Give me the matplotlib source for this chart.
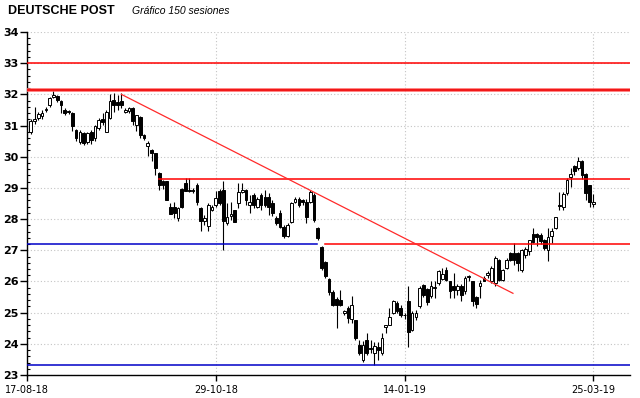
import matplotlib
matplotlib.use('Agg')
import matplotlib.pyplot as plt
import numpy as np

# sessions 1..150, OHLC
opens = [30.80, 31.15, 31.23, 31.31, 31.50, 31.66, 31.93, 31.96, 31.80, 31.50,
         31.46, 31.39, 30.86, 30.48, 30.75, 30.48, 30.80, 30.59, 30.91, 31.20,
         30.80, 31.25, 31.82, 31.75, 31.80, 31.42, 31.47, 31.55, 31.02, 31.29,
         30.70, 30.33, 30.23, 30.12, 29.48, 29.21, 29.21, 28.40, 28.40, 28.03,
         28.95, 29.16, 28.93, 28.92, 29.10, 28.35, 27.95, 27.77, 28.30, 28.44,
         28.91, 28.94, 27.86, 28.10, 28.29, 28.51, 28.88, 28.93, 28.45, 28.77,
         28.40, 28.77, 28.72, 28.72, 28.51, 28.03, 28.19, 27.76, 27.46, 27.92,
         28.56, 28.66, 28.60, 28.56, 28.56, 28.77, 27.72, 27.12, 26.62, 26.07,
         25.65, 25.45, 25.41, 24.99, 25.14, 24.80, 24.75, 23.97, 23.48, 24.13,
         23.88, 23.70, 23.90, 23.72, 24.55, 24.61, 25.00, 25.30, 25.15, 24.93,
         25.36, 24.45, 24.87, 25.20, 25.89, 25.75, 25.52, 25.80, 25.95, 26.08,
         26.37, 26.00, 25.84, 25.72, 25.84, 25.68, 26.14, 26.00, 25.50, 25.84,
         26.11, 26.20, 26.00, 25.95, 26.70, 26.06, 26.43, 26.91, 26.91, 26.91,
         26.37, 26.85, 26.97, 27.53, 27.53, 27.50, 27.34, 27.00, 27.45, 27.71,
         28.46, 28.40, 28.83, 29.36, 29.71, 29.63, 29.87, 29.45, 29.08, 28.48]
highs = [31.20, 31.60, 31.45, 31.50, 31.58, 31.93, 32.15, 31.98, 31.82, 31.55,
         31.50, 31.42, 30.90, 30.86, 30.80, 30.80, 30.86, 31.02, 31.23, 31.39,
         31.50, 32.00, 32.03, 31.98, 32.05, 31.55, 31.60, 31.60, 31.34, 31.30,
         30.72, 30.49, 30.25, 30.12, 29.50, 29.25, 29.21, 28.50, 28.56, 28.40,
         29.00, 29.32, 29.32, 29.00, 29.15, 28.40, 28.14, 28.51, 28.45, 28.91,
         28.95, 29.21, 28.50, 28.56, 28.30, 29.15, 29.15, 28.95, 28.77, 28.83,
         28.72, 28.83, 28.93, 28.83, 28.60, 28.10, 28.30, 27.80, 27.86, 28.56,
         28.72, 28.72, 28.66, 28.66, 28.93, 28.83, 27.75, 27.14, 26.65, 26.10,
         25.73, 25.50, 25.73, 25.10, 25.20, 25.52, 24.77, 24.13, 24.10, 24.34,
         24.13, 24.07, 24.07, 24.34, 24.61, 25.14, 25.42, 25.36, 25.25, 25.00,
         25.84, 25.04, 25.09, 25.84, 25.92, 25.80, 26.00, 26.00, 26.37, 26.42,
         26.45, 26.02, 26.27, 25.92, 25.92, 26.16, 26.21, 26.02, 25.52, 26.05,
         26.16, 26.32, 26.50, 26.81, 26.72, 26.40, 26.75, 26.96, 27.22, 26.96,
         27.05, 27.10, 27.34, 27.71, 27.56, 27.55, 27.35, 27.71, 27.71, 28.08,
         28.88, 28.88, 29.31, 29.63, 29.72, 30.00, 29.88, 29.47, 29.10, 28.80]
lows = [30.72, 31.05, 31.18, 31.20, 31.44, 31.60, 31.87, 31.77, 31.39, 31.34,
        31.38, 30.81, 30.49, 30.40, 30.38, 30.40, 30.40, 30.50, 30.86, 31.02,
        30.78, 31.20, 31.44, 31.50, 31.55, 31.40, 31.40, 31.02, 30.81, 30.60,
        30.55, 30.01, 29.86, 29.43, 28.94, 28.95, 28.60, 28.16, 28.03, 27.93,
        28.35, 28.89, 28.88, 28.85, 28.46, 27.61, 27.82, 27.61, 28.25, 28.40,
        28.45, 27.00, 27.82, 27.97, 27.90, 28.35, 28.85, 28.45, 28.19, 28.35,
        28.35, 28.30, 28.40, 28.14, 28.10, 27.80, 27.70, 27.38, 27.44, 27.86,
        28.50, 28.40, 28.45, 27.86, 28.51, 27.92, 27.33, 26.37, 26.10, 25.57,
        25.20, 24.50, 25.20, 24.93, 24.66, 24.66, 24.13, 23.64, 23.43, 23.64,
        23.70, 23.33, 23.48, 23.64, 24.34, 24.60, 24.95, 24.98, 24.85, 24.80,
        23.91, 24.40, 24.77, 25.14, 25.50, 25.25, 25.47, 25.47, 25.90, 26.05,
        26.00, 25.47, 25.47, 25.57, 25.36, 25.60, 26.00, 25.20, 25.15, 25.47,
        26.00, 26.11, 25.95, 25.84, 26.00, 26.00, 26.40, 26.64, 26.53, 26.32,
        26.30, 26.75, 26.84, 27.23, 27.15, 27.20, 27.02, 26.67, 27.23, 27.68,
        28.30, 28.29, 28.78, 29.04, 29.40, 29.58, 29.30, 28.60, 28.40, 28.38]
closes = [31.15, 31.20, 31.36, 31.41, 31.53, 31.87, 31.98, 31.82, 31.66, 31.39,
          31.42, 30.97, 30.59, 30.80, 30.43, 30.75, 30.54, 31.00, 31.18, 31.10,
          31.44, 31.80, 31.66, 31.65, 31.65, 31.50, 31.55, 31.13, 31.34, 30.70,
          30.60, 30.44, 30.12, 29.64, 29.10, 29.08, 28.62, 28.16, 28.19, 28.35,
          28.40, 28.91, 28.90, 28.90, 28.56, 27.93, 28.03, 28.46, 28.40, 28.67,
          28.51, 27.93, 28.06, 28.15, 27.92, 28.88, 28.93, 28.61, 28.56, 28.45,
          28.66, 28.45, 28.45, 28.40, 28.19, 27.86, 27.76, 27.46, 27.81, 28.51,
          28.66, 28.45, 28.56, 28.08, 28.88, 27.97, 27.38, 26.42, 26.16, 25.65,
          25.25, 25.25, 25.26, 25.06, 24.82, 25.25, 24.18, 23.70, 23.97, 23.70,
          23.84, 23.94, 23.80, 24.20, 24.60, 24.85, 25.36, 25.04, 24.94, 24.91,
          24.39, 24.99, 25.00, 25.78, 25.57, 25.33, 25.84, 25.82, 26.32, 26.24,
          26.05, 25.68, 25.73, 25.84, 25.57, 26.10, 26.16, 25.36, 25.28, 25.95,
          26.03, 26.27, 26.43, 26.75, 26.06, 26.38, 26.69, 26.69, 26.69, 26.58,
          27.00, 27.05, 27.34, 27.26, 27.42, 27.30, 27.07, 27.42, 27.63, 28.06,
          28.42, 28.80, 29.26, 29.45, 29.53, 29.87, 29.40, 28.83, 28.55, 28.55]

date_ticks = [0, 50, 100, 150]
date_labels = ['17-08-18', '29-10-18', '14-01-19', '25-03-19']

# drawn levels
red_levels = [33.0]
thick_level = 32.15
resist_level = 29.3
resist_start = 35
mid_level = 27.2
mid_switch = (76.8, 78.8)
support_level = 23.33
trend_x = [25.0, 128.7]
trend_y = [32.0, 25.62]

o = np.array(opens); h = np.array(highs); l = np.array(lows); c = np.array(closes)
x = np.arange(1, len(o) + 1)
xmax = 159.7

fig = plt.figure(figsize=(6.4, 3.98), dpi=100)
ax = fig.add_axes([27/640, 1 - 375/398, 603/640, 343/398])

ax.set_xlim(0, xmax)
ax.set_ylim(23, 34)

# grid
ax.set_yticks(np.arange(23, 35, 1))
ax.set_yticks(np.arange(23, 34.01, 0.2), minor=True)
ax.set_xticks(date_ticks)
ax.set_xticklabels(date_labels)
ax.grid(True, which='major', color='#c4c4c4', linestyle=(0, (1, 2)), linewidth=0.8, zorder=0)

# candles
ax.vlines(x, l, h, color='black', linewidth=0.8, zorder=2)
up = c >= o
bottoms = np.minimum(o, c)
heights = np.maximum(np.abs(c - o), 0.02)
ax.bar(x[up], heights[up], bottom=bottoms[up], width=0.72, color='white',
       edgecolor='black', linewidth=0.7, zorder=3)
ax.bar(x[~up], heights[~up], bottom=bottoms[~up], width=0.72, color='black',
       edgecolor='black', linewidth=0.7, zorder=3)

# drawings
for lv in red_levels:
    ax.plot([0, xmax], [lv, lv], color='#ff0000', linewidth=1.1, zorder=4)
ax.plot([0, xmax], [thick_level, thick_level], color='#ff6a6a', linewidth=2.6, zorder=4)
ax.plot([0, xmax], [thick_level, thick_level], color='#ee0000', linewidth=1.1, zorder=4)
ax.plot([resist_start, xmax], [resist_level, resist_level], color='#ff0000', linewidth=1.1, zorder=4)
ax.plot([0, mid_switch[0]], [mid_level, mid_level], color='#0000c8', linewidth=1.1, zorder=4)
ax.plot([mid_switch[1], xmax], [mid_level, mid_level], color='#ff0000', linewidth=1.1, zorder=4)
ax.plot([0, xmax], [support_level, support_level], color='#0000c8', linewidth=1.1, zorder=4)
ax.plot(trend_x, trend_y, color='#ff2a2a', linewidth=0.9, zorder=4)

# axes styling
for s in ['top', 'right']:
    ax.spines[s].set_visible(False)
ax.spines['left'].set_linewidth(1)
ax.spines['bottom'].set_linewidth(1)
ax.tick_params(axis='y', which='major', direction='out', length=5, width=1, pad=1,
               labelsize=8)
ax.tick_params(axis='y', which='minor', direction='in', length=2.5, width=0.8)
ax.tick_params(axis='x', which='major', direction='out', length=4, width=1, pad=3,
               labelsize=7)
for t in ax.get_yticklabels():
    t.set_fontweight('bold')

fig.text(8/640, 1 - 11/398, 'DEUTSCHE POST', fontsize=9, fontweight='bold',
         family='Liberation Sans', va='center', ha='left')
fig.text(132/640, 1 - 11/398, 'Gráfico 150 sesiones', fontsize=7.5, style='italic',
         family='Liberation Sans', va='center', ha='left')

fig.savefig('out.png', dpi=100)
